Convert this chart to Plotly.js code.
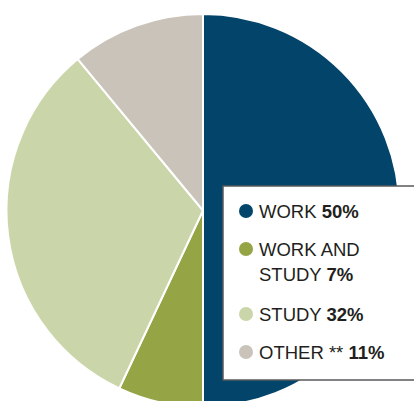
<!DOCTYPE html>
<html>
<head>
<meta charset="utf-8">
<script src="https://cdn.plot.ly/plotly-3.0.1.min.js"></script>
<style>
html,body{margin:0;padding:0;overflow:hidden;background:#fff;}
#chart{width:414px;height:420px;}
</style>
</head>
<body>
<div id="chart"></div>
<script>
const labels = ['WORK', 'WORK AND|STUDY', 'STUDY', 'OTHER **'];
const values = [50, 7, 32, 11];
const colors = ['#03446a', '#95a546', '#cad6a9', '#c9c3ba'];

const W = 414, H = 420;
const px = x => x / W;
const py = y => 1 - y / H;

const shapes = [];
const annotations = [];

// legend box
shapes.push({type:'rect', xref:'paper', yref:'paper', x0:px(223), x1:px(430), y0:py(186), y1:py(380),
  fillcolor:'#ffffff', line:{color:'#58595b', width:1.5}, layer:'above'});

const itemY = [211, 249, 314, 352];
const lineGap = 25.5;
labels.forEach((lab, i) => {
  const cy = itemY[i];
  const r = 7;
  shapes.push({type:'circle', xref:'paper', yref:'paper', x0:px(246-r), x1:px(246+r), y0:py(cy+r), y1:py(cy-r),
    fillcolor:colors[i], line:{width:0}, layer:'above'});
  const parts = lab.split('|');
  parts.forEach((p, j) => {
    const last = j === parts.length - 1;
    annotations.push({xref:'paper', yref:'paper', x:px(257), y:py(cy + j*lineGap), xanchor:'left', yanchor:'middle',
      showarrow:false, text: last ? `${p} <b>${values[i]}%</b>` : p,
      font:{family:'Liberation Sans, Arial, sans-serif', size:18.5, color:'#231f20'}});
  });
});

const trace = {
  type:'pie', labels: labels.map(l => l.replace('|',' ')), values: values,
  marker:{colors: colors, line:{color:'#ffffff', width:2}},
  sort:false, direction:'clockwise', rotation:0,
  textinfo:'none', hoverinfo:'none', showlegend:false,
  domain:{x:[6.5/W, 399.5/W], y:[13/H, 406/H]}
};

Plotly.newPlot('chart', [trace], {
  width:W, height:H, margin:{l:0,r:0,t:0,b:0}, showlegend:false,
  paper_bgcolor:'#ffffff', plot_bgcolor:'#ffffff',
  shapes: shapes, annotations: annotations
}, {displayModeBar:false, staticPlot:true});
</script>
</body>
</html>
